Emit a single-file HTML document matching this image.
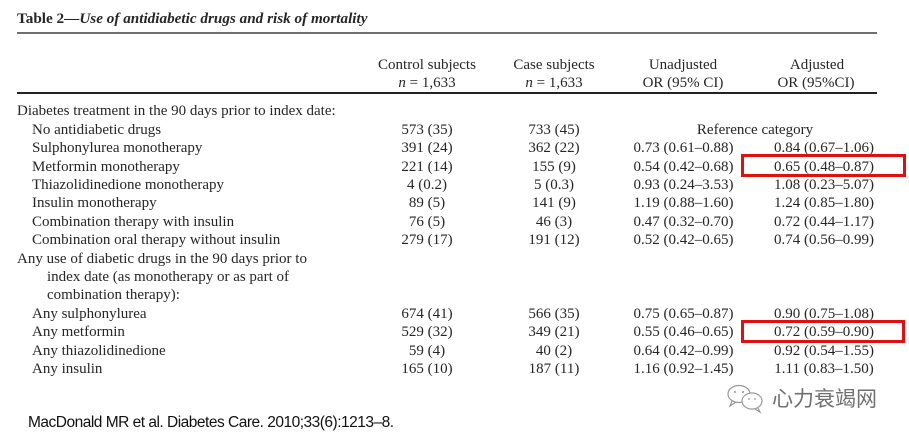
<!DOCTYPE html>
<html>
<head>
<meta charset="utf-8">
<style>
  html,body{margin:0;padding:0;background:#fff;}
  body{width:909px;height:438px;position:relative;overflow:hidden;
       font-family:"Liberation Serif","Noto Serif CJK SC",serif;color:#262626;font-size:15px;}
  .a{position:absolute;white-space:nowrap;line-height:18.4px;}
  .c{position:absolute;white-space:nowrap;text-align:center;width:140px;line-height:18.4px;}
  .rule{position:absolute;left:17px;width:860px;}
  .box{position:absolute;border:3px solid #e01010;box-sizing:border-box;}
  #rows{position:absolute;left:0;top:1.5px;width:909px;height:400px;}
</style>
</head>
<body>
<div class="a" style="left:17px;top:10px;line-height:18px;font-size:15.2px;"><b>Table 2—<i>Use of antidiabetic drugs and risk of mortality</i></b></div>
<div class="rule" style="top:32px;height:2px;background:#707070;"></div>
<div class="rule" style="top:92px;height:2px;background:#222;"></div>

<div id="rows">
<!-- headers -->
<div class="c" style="left:357px;top:54px;">Control subjects</div>
<div class="c" style="left:357px;top:72px;"><i>n</i> = 1,633</div>
<div class="c" style="left:484px;top:54px;">Case subjects</div>
<div class="c" style="left:484px;top:72px;"><i>n</i> = 1,633</div>
<div class="c" style="left:613px;top:54px;">Unadjusted</div>
<div class="c" style="left:613px;top:72px;">OR (95% CI)</div>
<div class="c" style="left:747px;top:54px;">Adjusted</div>
<div class="c" style="left:746px;top:72px;">OR (95%CI)</div>

<!-- rows -->
<div class="a" style="left:17px;top:100.8px;">Diabetes treatment in the 90 days prior to index date:</div>

<div class="a" style="left:32px;top:119.2px;">No antidiabetic drugs</div>
<div class="c" style="left:357px;top:119.2px;">573 (35)</div>
<div class="c" style="left:484px;top:119.2px;">733 (45)</div>
<div class="c" style="left:685px;top:119.2px;">Reference category</div>

<div class="a" style="left:32px;top:137.6px;">Sulphonylurea monotherapy</div>
<div class="c" style="left:357px;top:137.6px;">391 (24)</div>
<div class="c" style="left:484px;top:137.6px;">362 (22)</div>
<div class="c" style="left:613.5px;top:137.6px;">0.73 (0.61–0.88)</div>
<div class="c" style="left:754px;top:137.6px;">0.84 (0.67–1.06)</div>

<div class="a" style="left:32px;top:156px;">Metformin monotherapy</div>
<div class="c" style="left:357px;top:156px;">221 (14)</div>
<div class="c" style="left:484px;top:156px;">155 (9)</div>
<div class="c" style="left:613.5px;top:156px;">0.54 (0.42–0.68)</div>
<div class="c" style="left:754px;top:156px;">0.65 (0.48–0.87)</div>

<div class="a" style="left:32px;top:174.4px;">Thiazolidinedione monotherapy</div>
<div class="c" style="left:357px;top:174.4px;">4 (0.2)</div>
<div class="c" style="left:484px;top:174.4px;">5 (0.3)</div>
<div class="c" style="left:613.5px;top:174.4px;">0.93 (0.24–3.53)</div>
<div class="c" style="left:754px;top:174.4px;">1.08 (0.23–5.07)</div>

<div class="a" style="left:32px;top:192.8px;">Insulin monotherapy</div>
<div class="c" style="left:357px;top:192.8px;">89 (5)</div>
<div class="c" style="left:484px;top:192.8px;">141 (9)</div>
<div class="c" style="left:613.5px;top:192.8px;">1.19 (0.88–1.60)</div>
<div class="c" style="left:754px;top:192.8px;">1.24 (0.85–1.80)</div>

<div class="a" style="left:32px;top:211.2px;">Combination therapy with insulin</div>
<div class="c" style="left:357px;top:211.2px;">76 (5)</div>
<div class="c" style="left:484px;top:211.2px;">46 (3)</div>
<div class="c" style="left:613.5px;top:211.2px;">0.47 (0.32–0.70)</div>
<div class="c" style="left:754px;top:211.2px;">0.72 (0.44–1.17)</div>

<div class="a" style="left:32px;top:229.6px;">Combination oral therapy without insulin</div>
<div class="c" style="left:357px;top:229.6px;">279 (17)</div>
<div class="c" style="left:484px;top:229.6px;">191 (12)</div>
<div class="c" style="left:613.5px;top:229.6px;">0.52 (0.42–0.65)</div>
<div class="c" style="left:754px;top:229.6px;">0.74 (0.56–0.99)</div>

<div class="a" style="left:17px;top:248px;">Any use of diabetic drugs in the 90 days prior to</div>
<div class="a" style="left:47px;top:266.4px;">index date (as monotherapy or as part of</div>
<div class="a" style="left:47px;top:284.8px;">combination therapy):</div>

<div class="a" style="left:32px;top:303.2px;">Any sulphonylurea</div>
<div class="c" style="left:357px;top:303.2px;">674 (41)</div>
<div class="c" style="left:484px;top:303.2px;">566 (35)</div>
<div class="c" style="left:613.5px;top:303.2px;">0.75 (0.65–0.87)</div>
<div class="c" style="left:754px;top:303.2px;">0.90 (0.75–1.08)</div>

<div class="a" style="left:32px;top:321.6px;">Any metformin</div>
<div class="c" style="left:357px;top:321.6px;">529 (32)</div>
<div class="c" style="left:484px;top:321.6px;">349 (21)</div>
<div class="c" style="left:613.5px;top:321.6px;">0.55 (0.46–0.65)</div>
<div class="c" style="left:754px;top:321.6px;">0.72 (0.59–0.90)</div>

<div class="a" style="left:32px;top:340px;">Any thiazolidinedione</div>
<div class="c" style="left:357px;top:340px;">59 (4)</div>
<div class="c" style="left:484px;top:340px;">40 (2)</div>
<div class="c" style="left:613.5px;top:340px;">0.64 (0.42–0.99)</div>
<div class="c" style="left:754px;top:340px;">0.92 (0.54–1.55)</div>

<div class="a" style="left:32px;top:358.4px;">Any insulin</div>
<div class="c" style="left:357px;top:358.4px;">165 (10)</div>
<div class="c" style="left:484px;top:358.4px;">187 (11)</div>
<div class="c" style="left:613.5px;top:358.4px;">1.16 (0.92–1.45)</div>
<div class="c" style="left:754px;top:358.4px;">1.11 (0.83–1.50)</div>
</div>

<!-- red boxes -->
<div class="box" style="left:741px;top:154px;width:165px;height:23px;"></div>
<div class="box" style="left:741px;top:320px;width:164px;height:23px;"></div>

<!-- watermark -->
<svg style="position:absolute;left:726px;top:384px;" width="42" height="30" viewBox="0 0 42 30">
  <ellipse cx="13" cy="10" rx="11" ry="8.5" fill="none" stroke="#999" stroke-width="1.2"/>
  <path d="M6 17 L4 22 L10 18" fill="none" stroke="#999" stroke-width="1.2"/>
  <ellipse cx="26" cy="17" rx="10" ry="8" fill="#fff" stroke="#999" stroke-width="1.2"/>
  <path d="M32 24 L34 28 L29 25" fill="none" stroke="#999" stroke-width="1.2"/>
  <circle cx="9" cy="8" r="1" fill="#999"/>
  <circle cx="17" cy="8" r="1" fill="#999"/>
  <circle cx="23" cy="15" r="0.9" fill="#999"/>
  <circle cx="29" cy="15" r="0.9" fill="#999"/>
</svg>
<div class="a" style="left:772px;top:386px;font-family:'Noto Sans CJK SC','WenQuanYi Zen Hei',sans-serif;font-size:21px;line-height:24px;color:#707070;">心力衰竭网</div>

<!-- citation -->
<div class="a" style="left:28px;top:413px;font-family:'Liberation Sans',sans-serif;font-size:15.5px;letter-spacing:-0.5px;color:#111;line-height:20px;">MacDonald MR et al. Diabetes Care. 2010;33(6):1213–8.</div>
</body>
</html>
